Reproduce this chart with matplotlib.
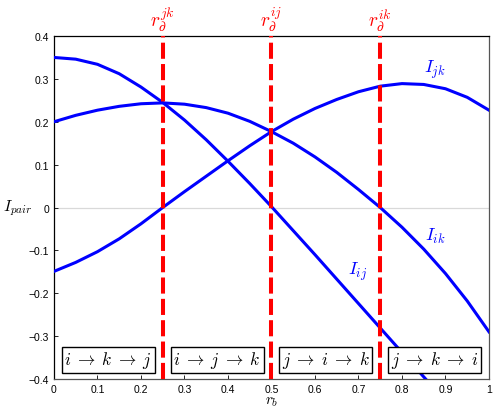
import numpy as np
import matplotlib
matplotlib.use('Agg')
import matplotlib.pyplot as plt

plt.rcParams['mathtext.fontset'] = 'cm'
plt.rcParams['font.family'] = ['Liberation Sans', 'DejaVu Sans']

# values
x_ij = [0.00, 0.05, 0.10, 0.15, 0.20, 0.25, 0.30, 0.35, 0.40, 0.45, 0.50,
        0.55, 0.60, 0.65, 0.70, 0.75, 0.80, 0.85, 0.90]
I_ij = [0.350, 0.346, 0.334, 0.312, 0.281, 0.245, 0.204, 0.158, 0.108, 0.056, 0.002,
        -0.054, -0.110, -0.167, -0.224, -0.281, -0.338, -0.395, -0.452]

x_all = [0.00, 0.05, 0.10, 0.15, 0.20, 0.25, 0.30, 0.35, 0.40, 0.45, 0.50,
         0.55, 0.60, 0.65, 0.70, 0.75, 0.80, 0.85, 0.90, 0.95, 1.00]
I_ik = [0.200, 0.215, 0.227, 0.236, 0.242, 0.244, 0.241, 0.233, 0.220, 0.201, 0.177,
        0.150, 0.118, 0.082, 0.042, 0.000, -0.046, -0.097, -0.154, -0.218, -0.290]
I_jk = [-0.149, -0.128, -0.103, -0.073, -0.038, 0.000, 0.037, 0.073, 0.109, 0.144, 0.177,
        0.206, 0.231, 0.252, 0.270, 0.283, 0.289, 0.287, 0.277, 0.257, 0.227]

boundaries = [0.25, 0.5, 0.75]
boundary_labels = [r'$r_\partial^{jk}$', r'$r_\partial^{ij}$', r'$r_\partial^{ik}$']
orders = [r'$i \;\rightarrow\; k \;\rightarrow\; j$', r'$i \;\rightarrow\; j \;\rightarrow\; k$',
          r'$j \;\rightarrow\; i \;\rightarrow\; k$', r'$j \;\rightarrow\; k \;\rightarrow\; i$']
order_x = [0.125, 0.375, 0.625, 0.875]

xticks = [0, 0.1, 0.2, 0.3, 0.4, 0.5, 0.6, 0.7, 0.8, 0.9, 1]
xticklabels = ['0', '0.1', '0.2', '0.3', '0.4', '0.5', '0.6', '0.7', '0.8', '0.9', '1']
yticks = [-0.4, -0.3, -0.2, -0.1, 0, 0.1, 0.2, 0.3, 0.4]
yticklabels = ['\u22120.4', '\u22120.3', '\u22120.2', '\u22120.1', '0', '0.1', '0.2', '0.3', '0.4']

fig = plt.figure(figsize=(4.98, 4.14), dpi=100)
ax = fig.add_axes([0.1084, 0.0821, 0.8735, 0.8285])

ax.axhline(0, color='#d9d9d9', lw=0.9, zorder=1)
for xs, ys in [(x_ij, I_ij), (x_all, I_ik), (x_all, I_jk)]:
    ax.plot(xs, ys, color='blue', lw=2.2, zorder=3, solid_joinstyle='round')

for b, lab in zip(boundaries, boundary_labels):
    ax.axvline(b, color='red', lw=2.9, linestyle=(0, (4, 1.3)), zorder=4)
    ax.text(b, 0.408, lab, color='red', fontsize=14, ha='center', va='bottom')

for xo, txt in zip(order_x, orders):
    ax.text(xo, -0.355, txt, fontsize=12.5, ha='center', va='center', zorder=5,
            bbox=dict(boxstyle='square,pad=0.15', fc='white', ec='black', lw=1))

ax.text(0.876, 0.323, r'$I_{jk}$', color='blue', fontsize=13, ha='center', va='center')
ax.text(0.876, -0.066, r'$I_{ik}$', color='blue', fontsize=13, ha='center', va='center')
ax.text(0.699, -0.148, r'$I_{ij}$', color='blue', fontsize=13, ha='center', va='center')

ax.set_xlim(0, 1)
ax.set_ylim(-0.4, 0.4)
ax.set_xticks(xticks)
ax.set_xticklabels(xticklabels)
ax.set_yticks(yticks)
ax.set_yticklabels(yticklabels)
ax.tick_params(direction='in', length=3, labelsize=7.5, width=0.6)

ax.set_xlabel(r'$r_b$', fontsize=11, labelpad=0)
ax.set_ylabel(r'$I_{pair}$', fontsize=11.5, rotation=0, labelpad=8, va='center')

for s in ['top', 'left']:
    ax.spines[s].set_color('black')
for s in ['right', 'bottom']:
    ax.spines[s].set_color('#555555')
for s in ax.spines.values():
    s.set_linewidth(0.9)

fig.savefig('out.png', dpi=100)
